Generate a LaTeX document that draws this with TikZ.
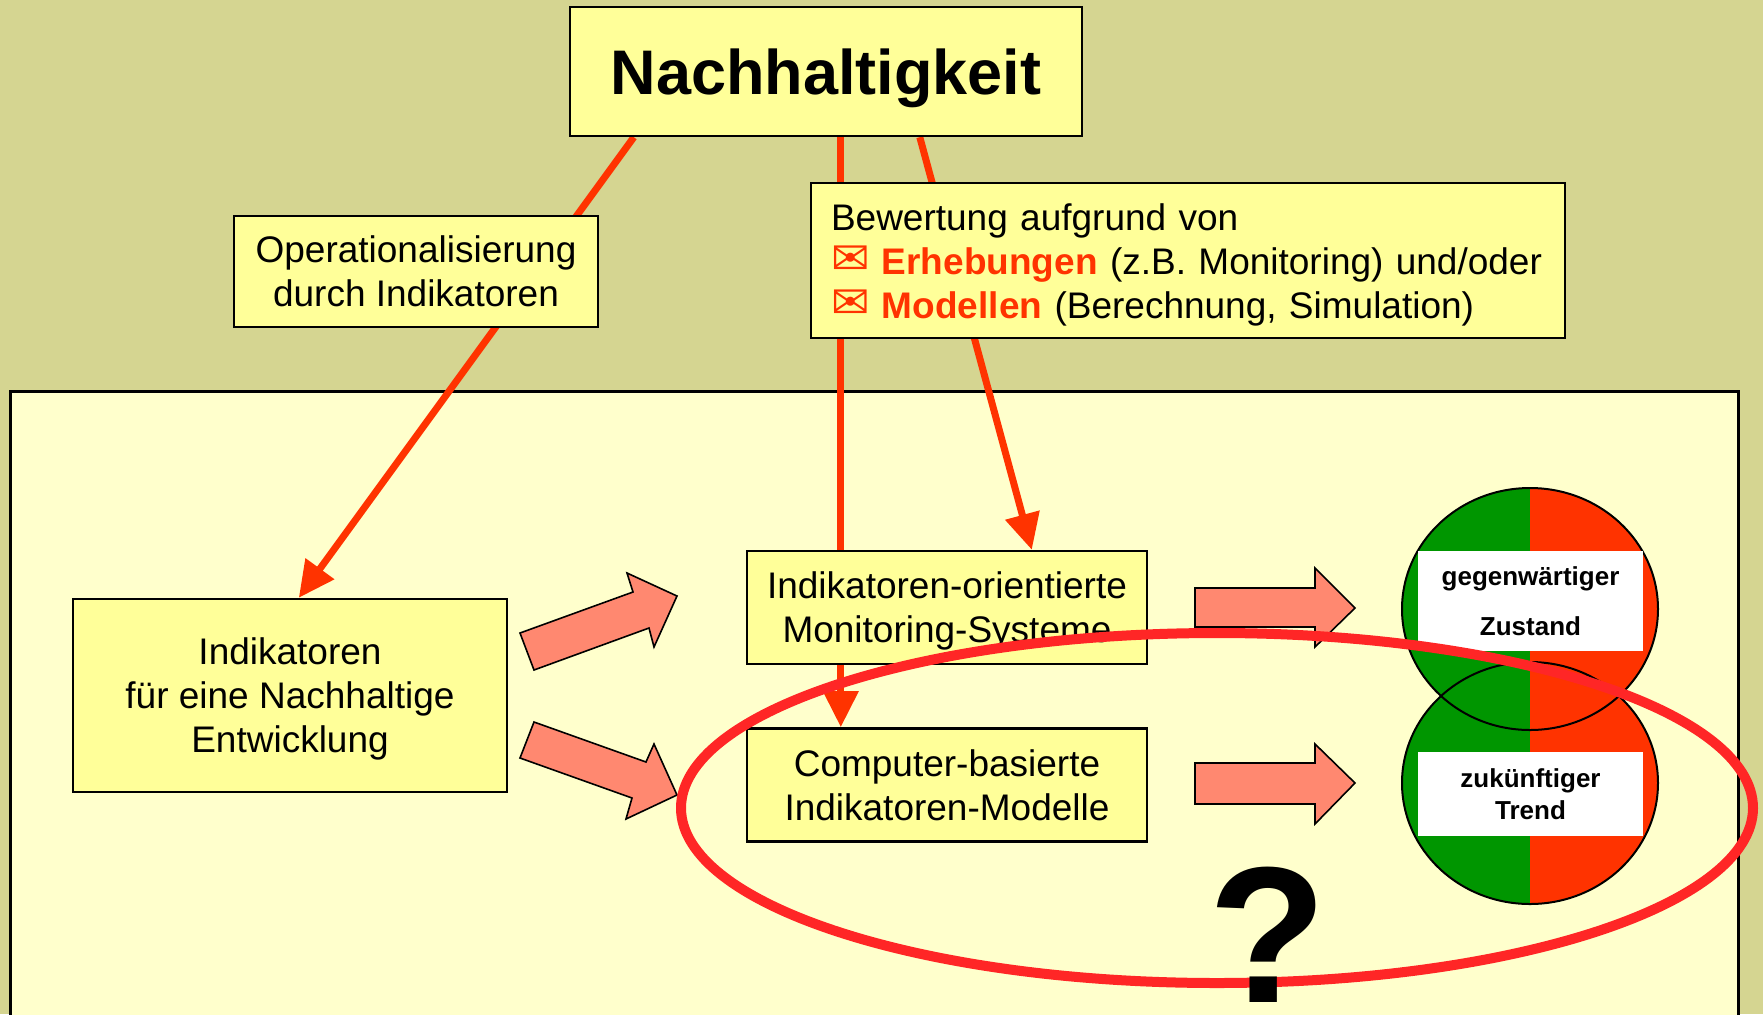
\documentclass[tikz,border=0pt]{standalone}
\usepackage{fontspec}
\setmainfont{Liberation Sans}
\newfontfamily\symfont{DejaVu Sans}
\usetikzlibrary{arrows.meta,positioning}
\definecolor{bgOlive}{RGB}{213,213,145}
\definecolor{panelCream}{RGB}{255,255,204}
\definecolor{boxYellow}{RGB}{255,255,153}
\definecolor{linkRed}{RGB}{255,51,0}
\definecolor{fatSalmon}{RGB}{255,136,112}
\definecolor{okGreen}{RGB}{0,150,0}
\definecolor{ringRed}{RGB}{255,38,38}
\pgfdeclarelayer{bg}
\pgfdeclarelayer{wires}
\pgfsetlayers{bg,wires,main}
\newcommand{\envmark}{{\symfont\fontsize{23}{22}\selectfont\color{linkRed}✉}}

\begin{document}
\begin{tikzpicture}[x=0.5pt, y=-0.5pt,
  box/.style = {draw, line width=1.2pt, fill=boxYellow, inner sep=0pt,
    align=center, font=\fontsize{18.5}{22}\selectfont},
  flat/.style = {text depth=0pt},
  link/.style = {draw=linkRed, line width=3.5pt,
    -{Triangle[length=18pt, width=17pt]}},
  fatarrow/.style = {draw, line width=0.8pt, fill=fatSalmon},
  tag/.style = {fill=white, inner sep=0pt, minimum width=112.5pt,
    align=center}]
  \useasboundingbox (0,0) rectangle (1763,1014);
  \begin{pgfonlayer}{bg}
    \fill[bgOlive] (0,0) rectangle (1763,1014);
    \draw[line width=1.5pt, fill=panelCream] (10,391) rectangle (1738,1030);
  \end{pgfonlayer}

  \node[box, flat, minimum width=256pt, minimum height=64.5pt,
    font=\fontsize{31.5}{36}\selectfont\bfseries] (nach) at (826,71.5) {Nachhaltigkeit};
  \node[box, minimum width=182pt, minimum height=55.5pt] (oper) at (416,271.5)
    {Operationalisierung\\durch Indikatoren};
  \node[box, minimum width=377pt, minimum height=77.5pt, inner xsep=10pt,
    text width=357pt, align=left] (bew) at (1188,260.5)
    {\rule{0pt}{18pt}Bewertung aufgrund von\\
     \envmark\ \textcolor{linkRed}{\bfseries Erhebungen} (z.B. Monitoring) und/oder\\
     \envmark\ \textcolor{linkRed}{\bfseries Modellen} (Berechnung, Simulation)};
  \node[box, flat, minimum width=217pt, minimum height=96.5pt] (ind) at (290,695.5)
    {Indikatoren\\für eine Nachhaltige\\Entwicklung};
  \node[box, flat, minimum width=200pt, minimum height=56.5pt] (mon) at (947,607.5)
    {Indikatoren-orientierte\\Monitoring-Systeme};
  \node[box, minimum width=200pt, minimum height=56.5pt, below=31pt of mon] (comp)
    {Computer-basierte\\Indikatoren-Modelle};

  \begin{pgfonlayer}{wires}
    \draw[link] ([xshift=32.5pt]nach.south west) -- ([xshift=113.5pt]ind.north west);
    \draw[link] ([xshift=136pt]nach.south west) -- ([xshift=47.5pt]comp.north west);
    \draw[link] ([xshift=175.5pt]nach.south west) -- ([xshift=143pt]mon.north west);
  \end{pgfonlayer}

  \draw[fatarrow] (520,633) -- (633,592) -- (627,573) -- (677,596) -- (654,647)
    -- (649,628) -- (534,670) -- cycle;
  \draw[fatarrow] (534,722) -- (646,762) -- (654,744) -- (677,795) -- (626,819)
    -- (632,798) -- (520,758) -- cycle;
  \draw[fatarrow] (1195,588) -- (1315,588) -- (1315,568) -- (1355,608) -- (1315,647)
    -- (1315,627) -- (1195,627) -- cycle;
  \draw[fatarrow] (1195,763) -- (1315,763) -- (1315,744) -- (1355,783) -- (1315,824)
    -- (1315,804) -- (1195,804) -- cycle;

  \foreach \cy in {609,783} {
    \begin{scope}
      \clip (1530,\cy) ellipse [x radius=64pt, y radius=60.5pt];
      \fill[okGreen] (1400,\cy-125) rectangle (1530,\cy+125);
      \fill[linkRed] (1530,\cy-125) rectangle (1660,\cy+125);
    \end{scope}
  }
  \foreach \cy in {609,783}
    \draw[line width=1pt] (1530,\cy) ellipse [x radius=64pt, y radius=60.5pt];

  \node[tag, minimum height=50pt, font=\fontsize{13}{25}\selectfont\bfseries]
    (now) at (1530.5,601) {gegenwärtiger\\Zustand};
  \node[tag, minimum height=42pt, font=\fontsize{13}{16}\selectfont\bfseries]
    (trend) at (1530.5,794) {zukünftiger\\Trend};

  \draw[draw=ringRed, line width=5pt] (1217,808) ellipse [x radius=268pt, y radius=87.5pt];
  \node[inner sep=0pt, font=\fontsize{97}{100}\selectfont\bfseries] (ask) at (1267.5,934.5) {?};
\end{tikzpicture}
\end{document}
